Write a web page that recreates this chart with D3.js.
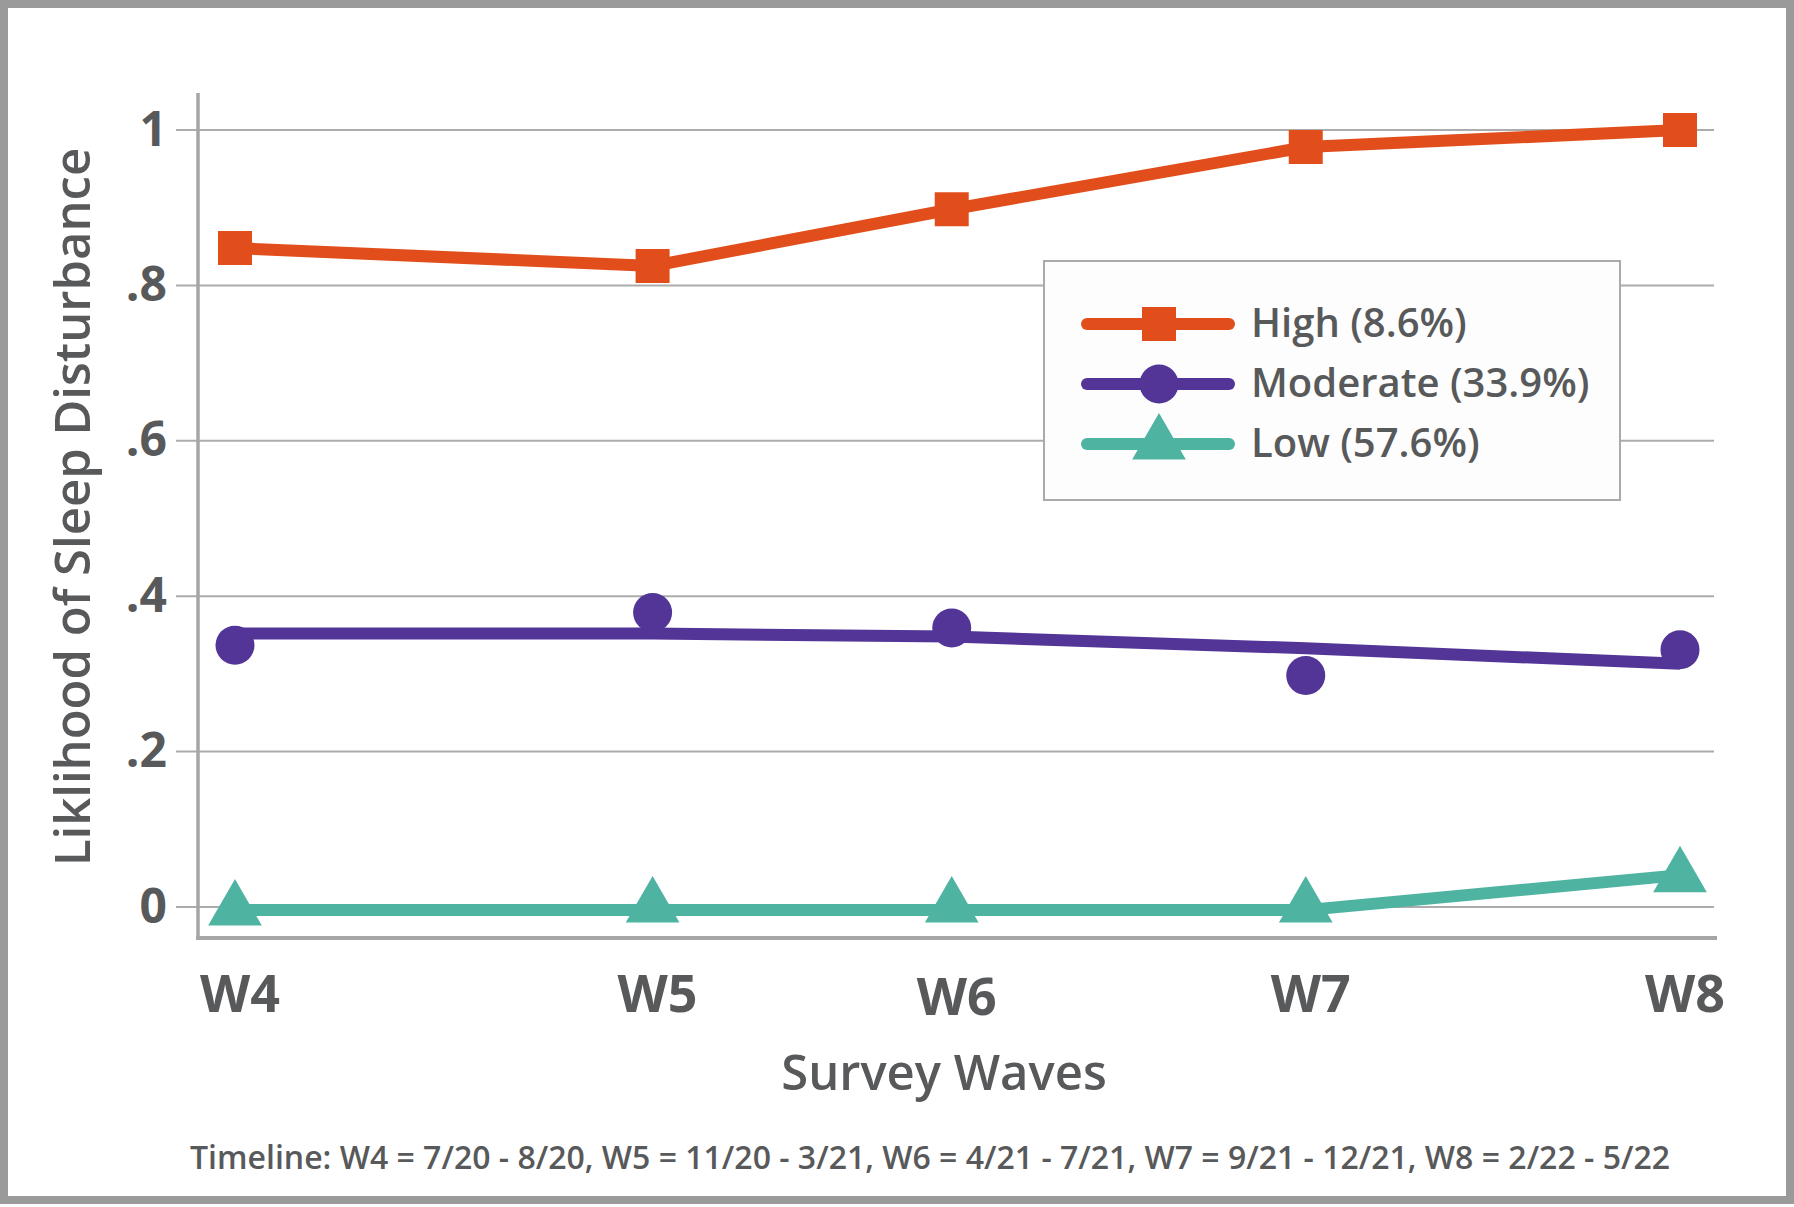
<!DOCTYPE html>
<meta charset="utf-8">
<head>
	<script src="https://d3js.org/d3.v7.min.js"></script>
	<style>
		body { margin: 0; background: #fff; }
		text { font-family: "Open Sans", "DejaVu Sans", sans-serif; fill: #58595b; }
	</style>
</head>
<body>
<div id="D3_Chart"></div>
<script>
	'use strict';

	// data
	var waves = ["W4", "W5", "W6", "W7", "W8"];
	// relative position of each wave along the x axis (0 = W4, 10 = W8)
	var wavePos = [0, 2.89, 4.96, 7.41, 10];

	var highLine = [0.848, 0.825, 0.898, 0.978, 1.0];
	var highPts = [0.848, 0.825, 0.898, 0.978, 1.0];
	var modLine = [0.352, 0.352, 0.348, 0.333, 0.313];
	var modPts = [0.337, 0.379, 0.359, 0.298, 0.331];
	var lowLine = [-0.004, -0.004, -0.004, -0.004, 0.041];
	var lowPts = [-0.004, 0.000, 0.000, 0.000, 0.039];

	var seriesNames = ["High (8.6%)", "Moderate (33.9%)", "Low (57.6%)"];
	var seriesColors = ["#e24e1b", "#523597", "#4fb3a1"];
	var yTicks = [0, 0.2, 0.4, 0.6, 0.8, 1];
	var yTickLabels = ["0", ".2", ".4", ".6", ".8", "1"];
	var timelineNote = "Timeline: W4 = 7/20 - 8/20, W5 = 11/20 - 3/21, W6 = 4/21 - 7/21, W7 = 9/21 - 12/21, W8 = 2/22 - 5/22";

	var width = 1794;
	var height = 1207;

	var svg = d3.select("#D3_Chart")
		.append("svg")
		.attr("width", width)
		.attr("height", height);

	// outer frame
	svg.append("rect")
		.attr("x", 4).attr("y", 4)
		.attr("width", width - 8).attr("height", 1196)
		.attr("fill", "#fff")
		.attr("stroke", "#9a9a9a")
		.attr("stroke-width", 8);

	var plotLeft = 198, plotRight = 1714, axisTop = 93, axisBottom = 938;

	var xscale = d3.scaleLinear().domain([0, 10]).range([235, 1680]);
	var yscale = d3.scaleLinear().domain([0, 1]).range([907, 130]);

	// gridlines + little ticks left of the axis
	svg.append("g").selectAll("line")
		.data(yTicks)
		.enter().append("line")
		.attr("x1", plotLeft - 22)
		.attr("x2", plotRight)
		.attr("y1", function(d) { return yscale(d); })
		.attr("y2", function(d) { return yscale(d); })
		.attr("stroke", "#acacac")
		.attr("stroke-width", 2);

	// y tick labels
	svg.append("g").selectAll("text")
		.data(yTicks)
		.enter().append("text")
		.attr("x", 167)
		.attr("y", function(d) { return yscale(d) - 3; })
		.attr("dominant-baseline", "central")
		.attr("text-anchor", "end")
		.attr("font-size", 48)
		.attr("font-weight", 700)
		.text(function(d, i) { return yTickLabels[i]; });

	// axis lines
	svg.append("line")
		.attr("x1", plotLeft).attr("x2", plotLeft)
		.attr("y1", axisTop).attr("y2", axisBottom + 2)
		.attr("stroke", "#a6a6a6").attr("stroke-width", 3.5);
	svg.append("line")
		.attr("x1", plotLeft - 2).attr("x2", 1717)
		.attr("y1", axisBottom).attr("y2", axisBottom)
		.attr("stroke", "#a6a6a6").attr("stroke-width", 4);

	// x labels
	svg.append("g").selectAll("text")
		.data(waves)
		.enter().append("text")
		.attr("x", function(d, i) { return xscale(wavePos[i]) + 5; })
		.attr("y", function(d, i) { return d === "W6" ? 1015 : 1012; })
		.attr("text-anchor", "middle")
		.attr("font-size", 52)
		.attr("font-weight", 700)
		.text(function(d) { return d; });

	// axis titles
	svg.append("text")
		.attr("x", 944).attr("y", 1090)
		.attr("text-anchor", "middle")
		.attr("font-size", 49)
		.attr("font-weight", 600)
		.text("Survey Waves");

	svg.append("text")
		.attr("transform", "translate(90,507) rotate(-90)")
		.attr("text-anchor", "middle")
		.attr("font-size", 49)
		.attr("font-weight", 600)
		.text("Liklihood of Sleep Disturbance");

	svg.append("text")
		.attr("x", 930).attr("y", 1169)
		.attr("text-anchor", "middle")
		.attr("font-size", 32)
		.attr("font-weight", 600)
		.text(timelineNote);

	// symbols
	var symbols = [
		d3.symbol().type(d3.symbolSquare).size(34 * 34),
		d3.symbol().type(d3.symbolCircle).size(Math.PI * 19.5 * 19.5),
		d3.symbol().type(d3.symbolTriangle).size(1248)
	];

	var line = d3.line()
		.x(function(d, i) { return xscale(wavePos[i]); })
		.y(function(d) { return yscale(d); });

	var seriesLines = [highLine, modLine, lowLine];
	var seriesPts = [highPts, modPts, lowPts];

	seriesLines.forEach(function(values, s) {
		var g = svg.append("g");
		g.append("path")
			.datum(values)
			.attr("d", line)
			.attr("fill", "none")
			.attr("stroke", seriesColors[s])
			.attr("stroke-width", 12);
		g.selectAll(".pt")
			.data(seriesPts[s])
			.enter().append("path")
			.attr("class", "pt")
			.attr("transform", function(d, i) {
				return "translate(" + xscale(wavePos[i]) + "," + yscale(d) + ")";
			})
			.attr("d", symbols[s])
			.attr("fill", seriesColors[s]);
	});

	// legend
	var legend = svg.append("g").attr("transform", "translate(1044,261)");
	legend.append("rect")
		.attr("width", 576).attr("height", 239)
		.attr("fill", "#fdfdfd")
		.attr("stroke", "#aaaaaa")
		.attr("stroke-width", 2);

	var rows = legend.selectAll(".row")
		.data(seriesNames)
		.enter().append("g")
		.attr("class", "row")
		.attr("transform", function(d, i) { return "translate(0," + (63 + i * 60) + ")"; });

	rows.append("line")
		.attr("x1", 43).attr("x2", 185)
		.attr("stroke", function(d, i) { return seriesColors[i]; })
		.attr("stroke-width", 12)
		.attr("stroke-linecap", "round");
	rows.append("path")
		.attr("transform", "translate(115,0)")
		.attr("d", function(d, i) { return symbols[i](); })
		.attr("fill", function(d, i) { return seriesColors[i]; });
	rows.append("text")
		.attr("x", 207)
		.attr("y", 13)
		.attr("font-size", 40)
		.attr("font-weight", 600)
		.text(function(d) { return d; });
</script>
</body>
